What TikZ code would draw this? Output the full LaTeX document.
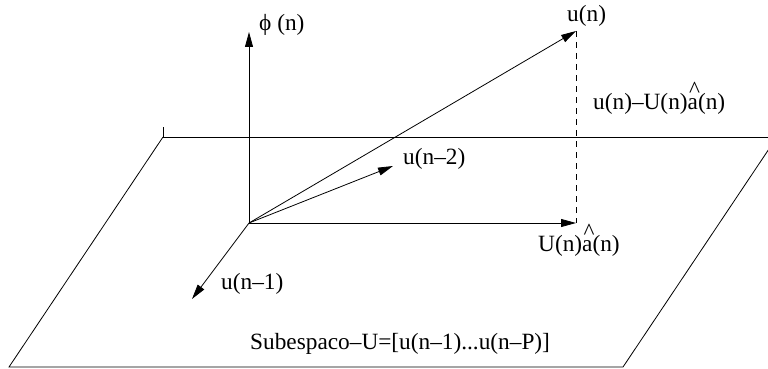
\documentclass[tikz,border=0pt]{standalone}
\usepackage{fontspec}
\setmainfont{Liberation Serif}
\usetikzlibrary{arrows.meta}
\newcommand{\ahat}{\makebox[0pt][l]{\kern0.06em\raisebox{0.5em}{\textasciicircum}}a}
\tikzset{
  plane/.style={line width=0.8pt, black},
  vec/.style={line width=0.8pt, -{Triangle[length=15pt,width=8pt]}},
  lbl/.style={inner sep=0pt, anchor=base west, font=\fontsize{23.3}{27}\selectfont}
}
\begin{document}
\begin{tikzpicture}[x=1pt,y=-1pt]
\useasboundingbox (0,0) rectangle (768,369);
\begin{scope}
\clip (0,0) rectangle (768,369);
% plane
\coordinate (tl) at (163,137);
\coordinate (tr) at (777,137);
\coordinate (bl) at (9,367);
\coordinate (br) at (623,367);
\coordinate (tick) at (163,127);
\draw[plane] (tick) -- (tl) -- (tr);
\draw[plane] (tl) -- (bl) -- (br) -- (tr);
\end{scope}
% origin and vector tips
\coordinate (O) at (249,223);
\coordinate (phitip) at (249,32);
\coordinate (untip) at (576,31);
\coordinate (proj) at (576,223);
\coordinate (n2tip) at (393,166);
\coordinate (n1tip) at (192,299);
\draw[vec] (O) -- (phitip);
\draw[vec] (O) -- (untip);
\draw[vec] (O) -- (proj);
\draw[vec] (O) -- (n2tip);
\draw[vec] (O) -- (n1tip);
\draw[line width=0.8pt, dash pattern=on 6pt off 5pt] (untip) -- (proj);
% labels
\node[lbl] (lphi) at (259,31) {ϕ (n)};
\node[lbl] (lun) at (567,22) {u(n)};
\node[lbl] (ldiff) at (593,109) {u(n)–U(n)\ahat(n)};
\node[lbl] (lproj) at (538,251) {U(n)\ahat(n)};
\node[lbl] (ln1) at (221,289) {u(n–1)};
\node[lbl] (ln2) at (403,164) {u(n–2)};
\node[lbl] (lsub) at (250,349) {Subespaco–U=[u(n–1)...u(n–P)]};
\end{tikzpicture}
\end{document}
